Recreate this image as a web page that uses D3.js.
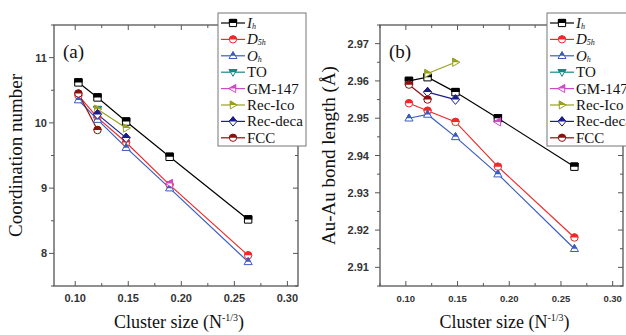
<!DOCTYPE html>
<html>
<head>
<meta charset="utf-8">
<script src="https://cdn.jsdelivr.net/npm/d3@7"></script>
<style>
  body { margin: 0; background: #fff; }
  svg { display: block; }
</style>
</head>
<body>
<div id="chart"></div>
<script>
// cluster sizes N^-1/3 (N = 923, 561, 309, 147, 55)
const clusterSize = [0.103, 0.121, 0.148, 0.189, 0.263];

const seriesNames = ["Ih", "D5h", "Oh", "TO", "GM-147", "Rec-Ico", "Rec-deca", "FCC"];
const seriesColors = ["#000000", "#f02a2a", "#3a5cc0", "#138a86", "#d04ac8", "#98a022", "#1c1c8c", "#8c1010"];
const seriesShapes = ["square", "circle", "up", "down", "left", "right", "diamond", "circle"];

// panel (a): coordination number
const coordIh      = [10.62, 10.39, 10.02, 9.48, 8.52];
const coordD5h     = [10.42, 10.08, 9.70, 9.05, 7.97];
const coordOh      = [10.35, 10.05, 9.62, 9.00, 7.87];
const coordTO      = [null, 10.21, null, null, null];
const coordGM147   = [null, null, null, 9.07, null];
const coordRecIco  = [null, 10.21, 9.92, null, null];
const coordRecDeca = [null, 10.13, 9.77, null, null];
const coordFCC     = [10.45, 9.89, null, null, null];

// panel (b): Au-Au bond length
const bondIh      = [2.960, 2.961, 2.957, 2.950, 2.937];
const bondD5h     = [2.954, 2.952, 2.949, 2.937, 2.918];
const bondOh      = [2.950, 2.951, 2.945, 2.935, 2.915];
const bondTO      = [null, null, null, null, null];
const bondGM147   = [null, null, null, 2.949, null];
const bondRecIco  = [null, 2.962, 2.965, null, null];
const bondRecDeca = [null, 2.957, 2.955, null, null];
const bondFCC     = [2.959, 2.955, null, null, null];

const coordTicks = [8, 9, 10, 11];
const bondTicks = [2.91, 2.92, 2.93, 2.94, 2.95, 2.96, 2.97];
const xTicks = [0.10, 0.15, 0.20, 0.25, 0.30];

const SERIF = '"Liberation Serif", "Times New Roman", Times, serif';
const SANS = '"Liberation Sans", Arial, sans-serif';

const W = 626, H = 335;
const svg = d3.select("#chart").append("svg").attr("width", W).attr("height", H);

// clip for half filled markers (top half filled)
svg.append("defs").append("clipPath").attr("id", "tophalf")
  .attr("clipPathUnits", "userSpaceOnUse")
  .append("rect").attr("x", -10).attr("y", -10).attr("width", 20).attr("height", 10);

function shapePath(shape, r) {
  switch (shape) {
    case "square": return `M${-r},${-r}H${r}V${r}H${-r}Z`;
    case "circle": return d3.symbol(d3.symbolCircle, Math.PI * r * r)();
    case "up": return `M0,${-r * 1.15}L${r * 1.1},${r * 0.75}H${-r * 1.1}Z`;
    case "down": return `M0,${r * 1.15}L${r * 1.1},${-r * 0.75}H${-r * 1.1}Z`;
    case "left": return `M${-r * 1.15},0L${r * 0.75},${-r * 1.1}V${r * 1.1}Z`;
    case "right": return `M${r * 1.15},0L${-r * 0.75},${-r * 1.1}V${r * 1.1}Z`;
    case "diamond": return `M0,${-r * 1.3}L${r * 1.1},0L0,${r * 1.3}L${-r * 1.1},0Z`;
  }
}

function drawMarker(g, shape, color, r) {
  g.append("path").attr("d", shapePath(shape, r)).attr("fill", "#fff")
    .attr("stroke", color).attr("stroke-width", 1);
  g.append("path").attr("d", shapePath(shape, r)).attr("fill", color)
    .attr("stroke", color).attr("stroke-width", 1).attr("clip-path", "url(#tophalf)");
}

function drawPanel(opt) {
  const { left, right, top, bottom, xDomain, yDomain, yTicks, yMinor, values, yFmt, tag, yTitle, titleX, labelX, xLabelSize } = opt;
  const x = d3.scaleLinear().domain(xDomain).range([left, right]);
  const y = d3.scaleLinear().domain(yDomain).range([bottom, top]);
  const g = svg.append("g");

  // frame
  g.append("rect").attr("x", left).attr("y", top).attr("width", right - left).attr("height", bottom - top)
    .attr("fill", "none").attr("stroke", "#555").attr("stroke-width", 1.3);

  const xMinor = d3.range(0.075, 0.31, 0.025).filter(v => v >= xDomain[0] && v <= xDomain[1]);
  const isMajorX = v => xTicks.some(t => Math.abs(t - v) < 1e-6);
  xMinor.forEach(v => {
    const len = isMajorX(v) ? 5 : 3;
    g.append("line").attr("x1", x(v)).attr("x2", x(v)).attr("y1", bottom).attr("y2", bottom - len).attr("stroke", "#555");
    g.append("line").attr("x1", x(v)).attr("x2", x(v)).attr("y1", top).attr("y2", top + len).attr("stroke", "#555");
  });
  yMinor.forEach(v => {
    const major = yTicks.some(t => Math.abs(t - v) < 1e-6);
    const len = major ? 5 : 3;
    g.append("line").attr("x1", left).attr("x2", left - len).attr("y1", y(v)).attr("y2", y(v)).attr("stroke", "#555");
    g.append("line").attr("x1", right).attr("x2", right - len).attr("y1", y(v)).attr("y2", y(v)).attr("stroke", "#555");
  });

  xTicks.forEach(v => {
    g.append("text").attr("font-family", SANS).attr("fill", "#333").attr("x", x(v)).attr("y", bottom + 16)
      .attr("text-anchor", "middle").attr("font-size", xLabelSize).attr("font-weight", "bold").text(v.toFixed(2));
  });
  yTicks.forEach(v => {
    g.append("text").attr("font-family", SANS).attr("fill", "#333").attr("x", labelX).attr("y", y(v) + 4)
      .attr("text-anchor", "end").attr("font-size", 11).attr("font-weight", "bold").text(yFmt(v));
  });

  // series
  const line = d3.line().x(d => x(d.x)).y(d => y(d.v));
  values.forEach((vals, i) => {
    const pts = clusterSize.map((c, k) => ({ x: c, v: vals[k] })).filter(d => d.v !== null);
    g.append("path").datum(pts).attr("d", line).attr("fill", "none")
      .attr("stroke", seriesColors[i]).attr("stroke-width", 1.2);
  });
  values.forEach((vals, i) => {
    clusterSize.forEach((c, k) => {
      if (vals[k] === null) return;
      const m = g.append("g").attr("transform", `translate(${x(c)},${y(vals[k])})`);
      drawMarker(m, seriesShapes[i], seriesColors[i], 3.7);
    });
  });

  // panel tag
  g.append("text").attr("font-family", SERIF).attr("fill", "#111").attr("x", left + 9).attr("y", 58)
    .attr("font-size", 19).text(tag);

  // axis titles
  const xt = g.append("text").attr("font-family", SERIF).attr("fill", "#111")
    .attr("x", (left + right) / 2 + 3).attr("y", 328)
    .attr("text-anchor", "middle").attr("font-size", 18);
  xt.append("tspan").text("Cluster size (N");
  xt.append("tspan").attr("dy", -7).attr("font-size", 10).text("-1/3");
  xt.append("tspan").attr("dy", 7).text(")");

  g.append("text").attr("font-family", SERIF).attr("fill", "#111")
    .attr("transform", `translate(${titleX},${(top + bottom) / 2}) rotate(-90)`)
    .attr("text-anchor", "middle").attr("font-size", 19).text(yTitle);

  // legend
  const lx = opt.legendX;
  const lg = g.append("g");
  lg.append("rect").attr("x", lx).attr("y", 13).attr("width", 88).attr("height", 133)
    .attr("fill", "#fff").attr("stroke", "#777").attr("stroke-width", 1);
  seriesNames.forEach((name, i) => {
    const ly = 23 + i * 16.4;
    lg.append("line").attr("x1", lx + 3).attr("x2", lx + 27).attr("y1", ly).attr("y2", ly)
      .attr("stroke", seriesColors[i]).attr("stroke-width", 1.2);
    drawMarker(lg.append("g").attr("transform", `translate(${lx + 15},${ly})`), seriesShapes[i], seriesColors[i], 3.6);
    const t = lg.append("text").attr("font-family", SERIF).attr("fill", "#111")
      .attr("x", lx + 29).attr("y", ly + 5).attr("font-size", 15);
    if (name === "Ih" || name === "Oh" || name === "D5h") {
      t.append("tspan").attr("font-style", "italic").text(name[0]);
      t.append("tspan").attr("font-style", "italic").attr("font-size", 8).attr("dy", 1).text(name.slice(1));
    } else {
      t.text(name);
    }
  });
}

drawPanel({
  left: 54, right: 298, top: 25, bottom: 286,
  xDomain: [0.08, 0.31], yDomain: [7.5, 11.5],
  yTicks: coordTicks, yMinor: [7.5, 8, 8.5, 9, 9.5, 10, 10.5, 11, 11.5],
  values: [coordIh, coordD5h, coordOh, coordTO, coordGM147, coordRecIco, coordRecDeca, coordFCC],
  yFmt: d3.format("d"), tag: "(a)", yTitle: "Coordination number", titleX: 22, labelX: 47,
  xLabelSize: 11, legendX: 218
});

drawPanel({
  left: 380, right: 623, top: 25, bottom: 286,
  xDomain: [0.075, 0.31], yDomain: [2.905, 2.975],
  yTicks: bondTicks, yMinor: [2.905, 2.91, 2.915, 2.92, 2.925, 2.93, 2.935, 2.94, 2.945, 2.95, 2.955, 2.96, 2.965, 2.97, 2.975],
  values: [bondIh, bondD5h, bondOh, bondTO, bondGM147, bondRecIco, bondRecDeca, bondFCC],
  yFmt: d3.format(".2f"), tag: "(b)", yTitle: "Au-Au bond length (Å)", titleX: 335, labelX: 369,
  xLabelSize: 9.5, legendX: 547
});
</script>
</body>
</html>
